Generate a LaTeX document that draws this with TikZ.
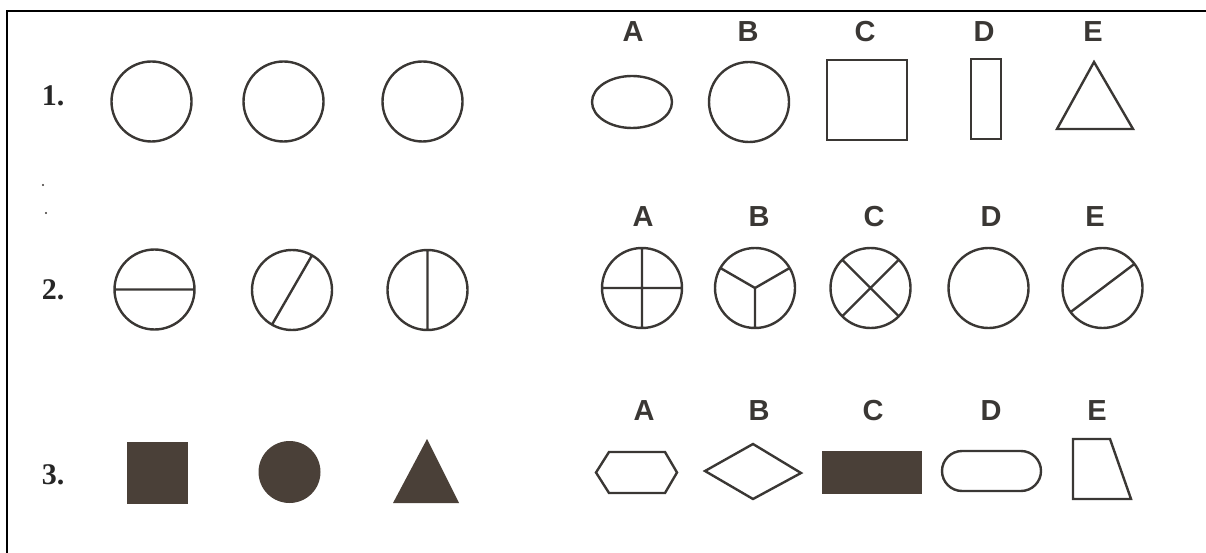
\documentclass[tikz,border=0pt]{standalone}
\usepackage{fontspec}
\setmainfont{Liberation Serif}
\setsansfont{Liberation Sans}
\definecolor{ink}{RGB}{58,55,52}
\definecolor{tone}{RGB}{74,64,56}
\begin{document}
\begin{tikzpicture}[x=1pt, y=-1pt, line width=2.4pt, draw=ink,
  every node/.style={inner sep=0pt},
  qnum/.style={font=\bfseries\fontsize{30}{30}\selectfont, text=black!85},
  optlabel/.style={font=\sffamily\bfseries\fontsize{29}{29}\selectfont, text=ink},
  solidshape/.style={fill=tone, draw=none}]
  \useasboundingbox (0,0) rectangle (1206,553);
  % only the top and left edges of the frame are printed
  \draw[black, line width=1.6pt] (1206,11) -- (7,11) -- (7,553);
  \fill[ink] (43,185) circle (1.2pt) (46,213) circle (1.2pt);

  \node[qnum] (q1) at (53,96) {1.};
  \node[qnum] (q2) at (53,290) {2.};
  \node[qnum] (q3) at (53,475) {3.};

  % answer letters, one row per question
  \foreach \l/\x in {A/633, B/748, C/865, D/984, E/1093}
    \node[optlabel] (a\l) at (\x,32) {\l};
  \foreach \l/\x in {A/643, B/759, C/874, D/991, E/1095}
    \node[optlabel] (b\l) at (\x,217) {\l};
  \foreach \l/\x in {A/644, B/759, C/873, D/991, E/1097}
    \node[optlabel] (c\l) at (\x,411) {\l};

  % question 1
  \foreach \x in {151.5, 283.5, 422.5}
    \draw (\x,101.5) circle (40pt);
  \draw (632,102) ellipse [x radius=40pt, y radius=26pt];
  \draw (749,102) circle (40pt);
  \draw (827,60) rectangle (907,140);
  \draw (971,59) rectangle (1001,139);
  \draw (1057,129) -- (1094,62) -- (1133,129) -- cycle;

  % question 2
  \coordinate (p1) at (154.5,289.5);
  \coordinate (p2) at (292,290);
  \coordinate (p3) at (427.5,290);
  \draw (p1) circle (40pt) (p1) ++(0:40pt) -- ++(180:80pt);
  \draw (p2) circle (40pt) (p2) ++(60:40pt) -- ++(240:80pt);
  \draw (p3) circle (40pt) (p3) ++(90:40pt) -- ++(270:80pt);
  \coordinate (oA) at (642,288);
  \coordinate (oB) at (755,288);
  \coordinate (oC) at (870.5,288);
  \coordinate (oD) at (988.5,288);
  \coordinate (oE) at (1102.5,288);
  \draw (oA) circle (40pt) (oA) ++(0:40pt) -- ++(180:80pt)
        (oA) ++(90:40pt) -- ++(270:80pt);
  \draw (oB) circle (40pt) (oB) -- ++(30:40pt) (oB) -- ++(150:40pt)
        (oB) -- ++(270:40pt);
  \draw (oC) circle (40pt) (oC) ++(45:40pt) -- ++(225:80pt)
        (oC) ++(135:40pt) -- ++(315:80pt);
  \draw (oD) circle (40pt);
  \draw (oE) circle (40pt) (oE) ++(37:40pt) -- ++(217:80pt);

  % question 3
  \fill[solidshape] (127,442) rectangle (188,504);
  \fill[solidshape] (289.5,472) circle (31pt);
  \fill[solidshape] (393,503) -- (427,439) -- (459,503) -- cycle;
  \draw (596,472.5) -- (609,452) -- (665,452) -- (677,472.5)
        -- (665,493) -- (609,493) -- cycle;
  \draw (705,471) -- (753,444) -- (801,473) -- (753,499) -- cycle;
  \fill[solidshape] (822,451) rectangle (922,494);
  \draw[rounded corners=20pt] (942,451) rectangle (1041,491);
  \draw (1073,439) -- (1110,439) -- (1131,499) -- (1073,499) -- cycle;
\end{tikzpicture}
\end{document}
